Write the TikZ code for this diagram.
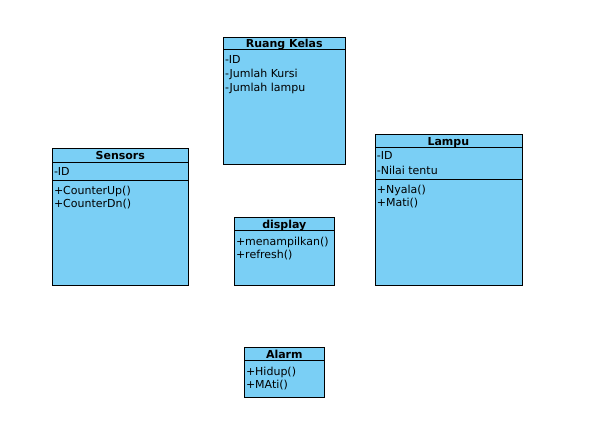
\documentclass[tikz,border=0pt]{standalone}
\usepackage{fontspec}
\setmainfont{DejaVu Sans}
\usetikzlibrary{positioning}
\definecolor{classblue}{RGB}{122,207,245}

\begin{document}
\begin{tikzpicture}[x=0.75pt,y=-0.75pt,line width=0.75pt,
  class box/.style={draw,fill=classblue,inner sep=0pt,anchor=north west},
  class title/.style={font=\bfseries\fontsize{8.25}{10}\selectfont,anchor=base,inner sep=0pt},
  member/.style={font=\fontsize{8.25}{10}\selectfont,anchor=base west,inner sep=0pt}]
  \useasboundingbox (0,0) rectangle (607,434);

  % Ruang Kelas
  \node[class box,minimum width=91.5pt,minimum height=95.25pt] (ruang) at (223.3,36.8) {};
  \node[class title] (ruang title) at (284.3,47.3) {Ruang Kelas};
  \draw (ruang.west |- 0,49.3) -- (ruang.east |- 0,49.3);
  \node[member] (ruang id) at (224.5,64) {-ID};
  \node[member] (ruang kursi) at (224.5,78) {-Jumlah Kursi};
  \node[member] (ruang lampu) at (224.5,92) {-Jumlah lampu};

  % Sensors
  \node[class box,minimum width=102pt,minimum height=102.5pt] (sensors) at (52.3,148.3) {};
  \node[class title] (sensors title) at (120.3,160) {Sensors};
  \draw (sensors.west |- 0,162.7) -- (sensors.east |- 0,162.7);
  \draw (sensors.west |- 0,180.7) -- (sensors.east |- 0,180.7);
  \node[member] (sensors id) at (53.5,176) {-ID};
  \node[member] (sensors up) at (53.5,195) {+CounterUp()};
  \node[member] (sensors dn) at (53.5,208) {+CounterDn()};

  % Lampu
  \node[class box,minimum width=110pt,minimum height=113.7pt] (lampu) at (375,133.7) {};
  \node[class title] (lampu title) at (448.3,145.5) {Lampu};
  \draw (lampu.west |- 0,147.3) -- (lampu.east |- 0,147.3);
  \draw (lampu.west |- 0,179.7) -- (lampu.east |- 0,179.7);
  \node[member] (lampu id) at (376.3,160) {-ID};
  \node[member] (lampu nilai) at (376.3,175) {-Nilai tentu};
  \node[member] (lampu nyala) at (376.3,194) {+Nyala()};
  \node[member] (lampu mati) at (376.3,207) {+Mati()};

  % display
  \node[class box,minimum width=75pt,minimum height=50.8pt] (display) at (234.3,217.3) {};
  \node[class title] (display title) at (284.3,228.5) {display};
  \draw (display.west |- 0,231) -- (display.east |- 0,231);
  \node[member] (display show) at (235.5,246) {+menampilkan()};
  \node[member] (display refresh) at (235.5,259) {+refresh()};

  % Alarm
  \node[class box,minimum width=60pt,minimum height=37.5pt] (alarm) at (244.3,347.3) {};
  \node[class title] (alarm title) at (284.3,358.5) {Alarm};
  \draw (alarm.west |- 0,361) -- (alarm.east |- 0,361);
  \node[member] (alarm hidup) at (245.5,376) {+Hidup()};
  \node[member] (alarm mati) at (245.5,389) {+MAti()};
\end{tikzpicture}
\end{document}
